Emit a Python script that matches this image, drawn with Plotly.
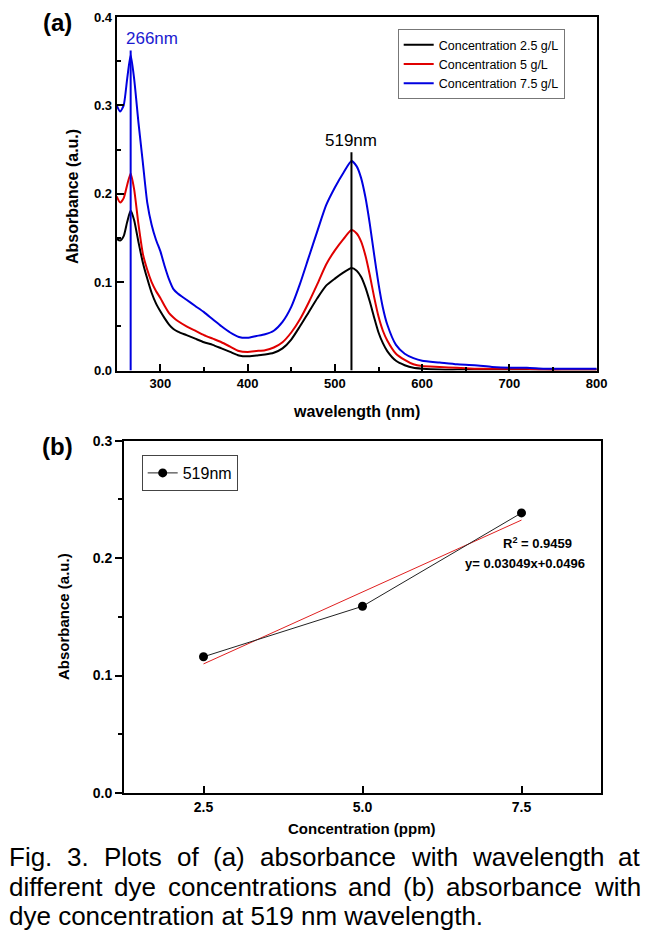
import numpy as np
import plotly.graph_objects as go

# ---------------- data (a) ----------------
wavelength = [250, 254, 258, 262, 266, 270, 275, 280, 285, 290, 295, 300, 305, 310, 315, 320,
              330, 340, 350, 360, 370, 380, 390, 400, 410, 420, 430, 440, 450, 460, 470, 480,
              490, 500, 510, 519, 525, 530, 535, 540, 545, 550, 555, 560, 570, 580, 590, 600,
              620, 640, 660, 680, 700, 720, 740, 760, 780, 800]
abs_2_5 = [0.149, 0.147, 0.152, 0.168, 0.181, 0.170, 0.145, 0.122, 0.104, 0.088, 0.076, 0.067, 0.059, 0.052, 0.047, 0.044,
           0.040, 0.036, 0.032, 0.029, 0.025, 0.021, 0.017, 0.016, 0.017, 0.018, 0.020, 0.025, 0.035, 0.050, 0.066, 0.082,
           0.096, 0.104, 0.111, 0.116, 0.113, 0.106, 0.094, 0.078, 0.060, 0.043, 0.031, 0.022, 0.011, 0.006, 0.003, 0.002,
           0.001, 0.001, 0.001, 0.001, 0.001, 0.001, 0.001, 0.001, 0.001, 0.001]
abs_5 = [0.197, 0.190, 0.195, 0.210, 0.223, 0.205, 0.165, 0.132, 0.114, 0.100, 0.090, 0.082, 0.073, 0.065, 0.060, 0.056,
         0.050, 0.045, 0.040, 0.036, 0.032, 0.027, 0.022, 0.021, 0.022, 0.023, 0.026, 0.032, 0.043, 0.058, 0.077, 0.098,
         0.120, 0.136, 0.149, 0.159, 0.155, 0.146, 0.130, 0.108, 0.083, 0.061, 0.045, 0.034, 0.019, 0.012, 0.007, 0.005,
         0.004, 0.003, 0.002, 0.002, 0.002, 0.002, 0.001, 0.001, 0.001, 0.001]
abs_7_5 = [0.300, 0.293, 0.300, 0.330, 0.357, 0.330, 0.280, 0.235, 0.190, 0.165, 0.148, 0.135, 0.118, 0.103, 0.092, 0.087,
           0.080, 0.073, 0.066, 0.058, 0.050, 0.043, 0.038, 0.037, 0.039, 0.041, 0.045, 0.055, 0.072, 0.098, 0.128, 0.158,
           0.187, 0.207, 0.224, 0.237, 0.231, 0.218, 0.196, 0.166, 0.131, 0.098, 0.071, 0.052, 0.029, 0.019, 0.014, 0.011,
           0.009, 0.007, 0.006, 0.004, 0.003, 0.003, 0.002, 0.002, 0.002, 0.002]
series_names = ["Concentration 2.5 g/L", "Concentration 5 g/L", "Concentration 7.5 g/L"]
series_colors = ["#000000", "#e00000", "#0000e0"]

peak_wavelengths = [266, 519]
peak_line_tops = [0.362, 0.247]
peak_labels = ["266nm", "519nm"]
peak_label_x = [290, 519]
peak_label_y = [0.376, 0.26]
peak_colors = ["#1a1ad0", "#000000"]

# ---------------- data (b) ----------------
concentration = [2.5, 5.0, 7.5]
absorbance_519 = [0.116, 0.159, 0.2385]
fit_label_r2 = "R<sup>2</sup> = 0.9459"
fit_label_eq = "y= 0.03049x+0.0496"

caption_lines = ["Fig. 3. Plots of (a) absorbance with wavelength at",
                 "different dye concentrations and (b) absorbance with",
                 "dye concentration at 519 nm wavelength."]

W, H = 658, 948
OFF = 8  # page body margin
def px(x):
    return (x - OFF) / W
def py(y):
    return 1 - (y - OFF) / H

fig = go.Figure()

for ys, name, col in zip([abs_2_5, abs_5, abs_7_5], series_names, series_colors):
    fig.add_trace(go.Scatter(x=wavelength, y=ys, mode="lines", name=name,
                             line=dict(color=col, width=2, shape="spline", smoothing=0.6),
                             xaxis="x", yaxis="y", legend="legend"))

for wl, top, col in zip(peak_wavelengths, peak_line_tops, ["#0000e0", "#000000"]):
    fig.add_trace(go.Scatter(x=[wl, wl], y=[0, top], mode="lines", showlegend=False,
                             line=dict(color=col, width=2), xaxis="x", yaxis="y"))

slope, intercept = np.polyfit(concentration, absorbance_519, 1)
fit_x = [concentration[0], concentration[-1]]
fit_y = [slope * v + intercept for v in fit_x]

fig.add_trace(go.Scatter(x=fit_x, y=fit_y, mode="lines", showlegend=False,
                         line=dict(color="#e02020", width=1), xaxis="x2", yaxis="y2"))
fig.add_trace(go.Scatter(x=concentration, y=absorbance_519, mode="lines+markers", name="519nm",
                         line=dict(color="#222222", width=1),
                         marker=dict(color="black", size=9),
                         xaxis="x2", yaxis="y2", legend="legend2"))

FONT = "Liberation Sans, Arial, sans-serif"
axis_common = dict(showline=True, linewidth=2, linecolor="black", mirror=True,
                   showgrid=False, zeroline=False, tickcolor="black", tickwidth=1.5)
tick_font_a = dict(family=FONT, size=13, color="black", weight="bold")
tick_font_b = dict(family=FONT, size=14, color="black", weight="bold")

fig.update_layout(
    width=W, height=H, margin=dict(l=0, r=0, t=0, b=0, autoexpand=False),
    paper_bgcolor="white", plot_bgcolor="white",
    xaxis=dict(domain=[px(116.7), px(596.7)], range=[250, 800], dtick=100, tick0=0,
               ticks="inside", ticklen=7, minor=dict(ticks="inside", ticklen=4, dtick=50, tickcolor="black"),
               tickfont=tick_font_a, anchor="y", **axis_common),
    yaxis=dict(domain=[py(370.5), py(17)], range=[0, 0.4], dtick=0.1, tickformat=".1f",
               ticks="inside", ticklen=7, minor=dict(ticks="inside", ticklen=4, dtick=0.05, tickcolor="black"),
               tickfont=tick_font_a, anchor="x", **axis_common),
    xaxis2=dict(domain=[px(124), px(601)], range=[1.25, 8.75], tickvals=concentration, tickformat=".1f",
                ticks="inside", ticklen=7, tickfont=tick_font_b, anchor="y2", **axis_common),
    yaxis2=dict(domain=[py(793), py(440.7)], range=[0, 0.3], dtick=0.1, tickformat=".1f",
                ticks="outside", ticklen=7, minor=dict(ticks="outside", ticklen=4, dtick=0.05, tickcolor="black"),
                tickfont=tick_font_b, anchor="x2", **axis_common),
    legend=dict(x=px(397.7), y=py(29), xanchor="left", yanchor="top", bgcolor="white",
                bordercolor="#777777", borderwidth=1, tracegroupgap=0, itemwidth=30,
                font=dict(family=FONT, size=12.5, color="black")),
    legend2=dict(x=px(141.7), y=py(455), xanchor="left", yanchor="top", bgcolor="white",
                 bordercolor="#444444", borderwidth=1, itemwidth=30,
                 font=dict(family=FONT, size=16, color="black")),
    showlegend=True,
)

def pa(text, x, y, size, color="black", angle=0, xanchor="center"):
    return dict(text=text, x=px(x), y=py(y), xref="paper", yref="paper", showarrow=False,
                xanchor=xanchor, yanchor="middle", textangle=angle,
                font=dict(family=FONT, size=size, color=color))

ann = []
for lab, lx, ly, col in zip(peak_labels, peak_label_x, peak_label_y, peak_colors):
    ann.append(dict(text=lab, x=lx, y=ly, xref="x", yref="y", showarrow=False,
                    xanchor="center", yanchor="middle",
                    font=dict(family=FONT, size=17, color=col)))
ann += [
    pa("<b>(a)</b>", 57, 22, 24),
    pa("<b>(b)</b>", 57, 447, 24),
    pa("<b>Absorbance (a.u.)</b>", 73, 197, 16, angle=-90),
    pa("<b>wavelength (nm)</b>", 357, 411, 16),
    pa("<b>Absorbance (a.u.)</b>", 63, 617, 15, angle=-90),
    pa("<b>Concentration (ppm)</b>", 362, 828, 15),
    pa("<b>" + fit_label_r2 + "</b>", 537, 543, 13),
    pa("<b>" + fit_label_eq + "</b>", 525, 563, 13),
]

# Justified caption (Liberation Sans has Arial metrics)
ARIAL = {" ": 278, "F": 611, "i": 222, "g": 556, ".": 278, "3": 556, "P": 667, "l": 222, "o": 556,
         "t": 278, "s": 500, "f": 278, "(": 333, "a": 556, ")": 333, "b": 556, "r": 333, "n": 556,
         "c": 500, "e": 556, "w": 722, "h": 556, "v": 500, "d": 556, "y": 500, "5": 556, "1": 556,
         "9": 556, "m": 833}
CAP_SIZE = 26
def tw(s):
    return sum(ARIAL.get(c, 556) for c in s) * CAP_SIZE / 1000.0

cap_x0, cap_x1 = 7, 638
cap_y = [857, 887, 916]
for i, line in enumerate(caption_lines):
    if i < len(caption_lines) - 1:
        words = line.split(" ")
        widths = [tw(w) for w in words]
        gap = (cap_x1 - cap_x0 - sum(widths)) / (len(words) - 1)
        xpos = cap_x0
        for w, wd in zip(words, widths):
            ann.append(pa(w, xpos, cap_y[i], CAP_SIZE, xanchor="left"))
            xpos += wd + gap
    else:
        ann.append(pa(line, cap_x0, cap_y[i], CAP_SIZE, xanchor="left"))
fig.update_layout(annotations=ann)

fig.write_html("out.html")
